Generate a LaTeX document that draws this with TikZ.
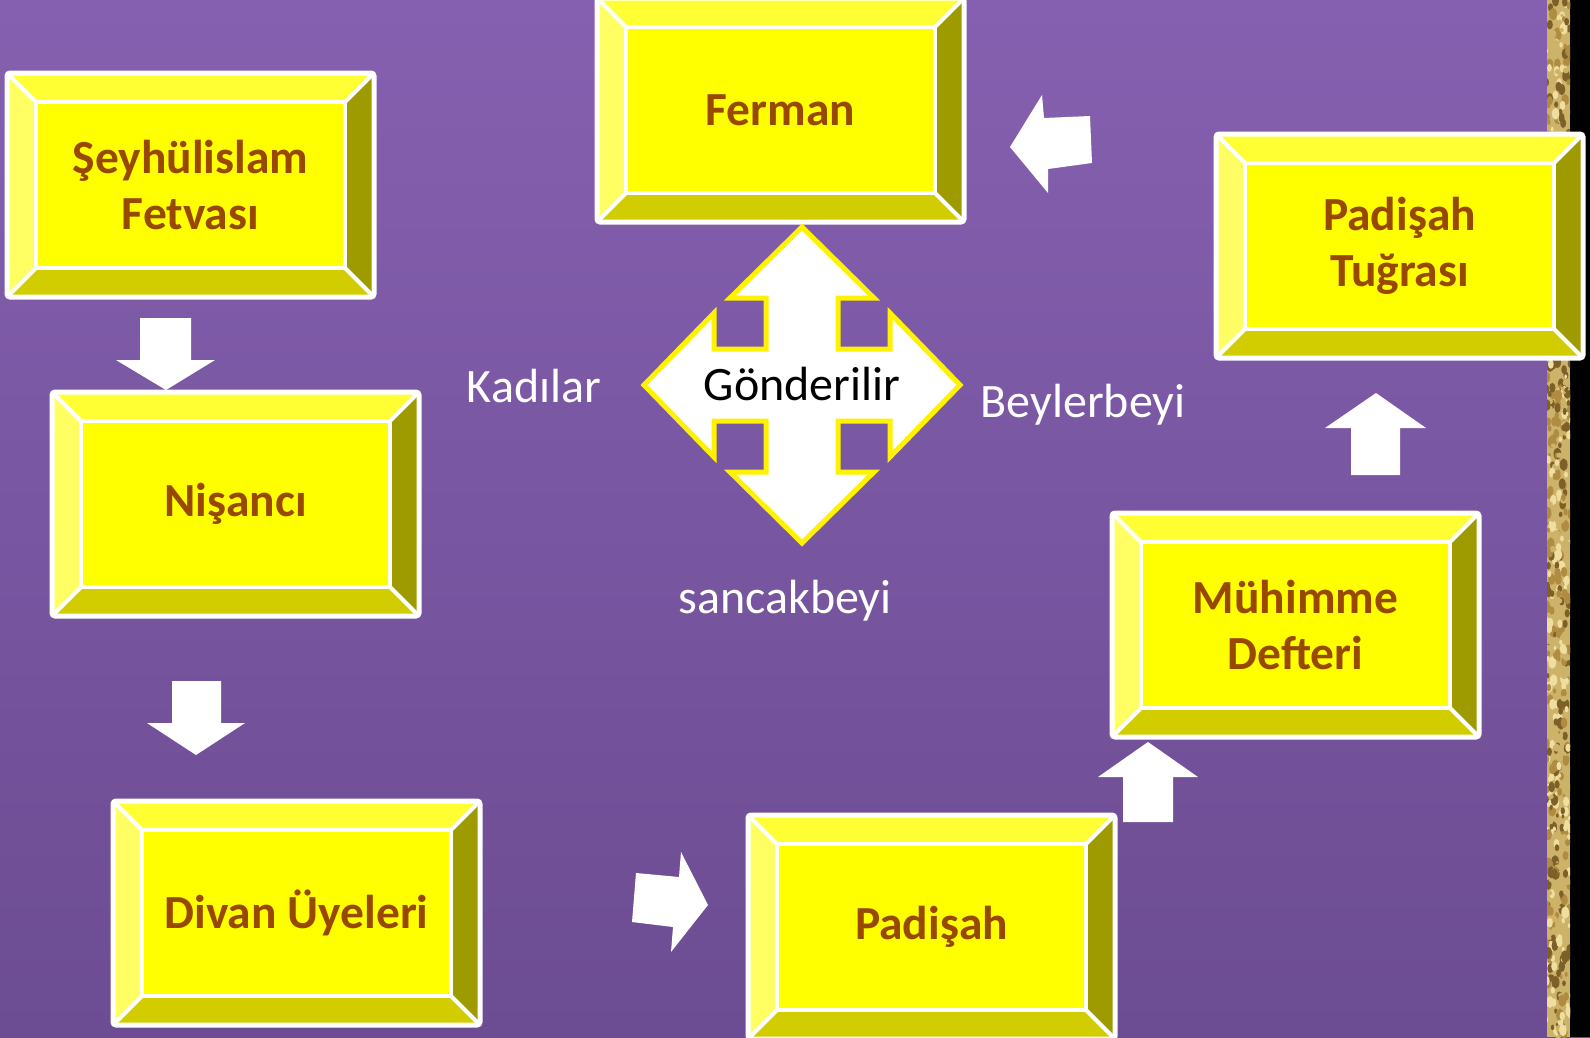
\documentclass[tikz,border=0pt]{standalone}
\usepackage{fontspec}
\setmainfont{Carlito}
\definecolor{bgtop}{RGB}{133,96,176}
\definecolor{bgbot}{RGB}{108,76,146}
\definecolor{facecol}{RGB}{255,255,0}
\definecolor{topcol}{RGB}{255,255,52}
\definecolor{leftcol}{RGB}{255,255,100}
\definecolor{rightcol}{RGB}{158,155,0}
\definecolor{botcol}{RGB}{210,205,0}
\definecolor{txtbrown}{RGB}{153,72,0}
\definecolor{gold}{RGB}{205,178,105}
\definecolor{golddark}{RGB}{125,95,40}
\definecolor{goldlight}{RGB}{240,222,160}
\definecolor{goldmid}{RGB}{175,140,65}
\newcommand\bevbox[4]{%
  \begin{scope}[shift={(#2,#3)}]
    \fill[facecol] (0,0) rectangle (367,224);
    \fill[topcol] (0,0) -- (367,0) -- (338,29) -- (29,29) -- cycle;
    \fill[leftcol] (0,0) -- (29,29) -- (29,195) -- (0,224) -- cycle;
    \fill[rightcol] (367,0) -- (367,224) -- (338,195) -- (338,29) -- cycle;
    \fill[botcol] (0,224) -- (367,224) -- (338,195) -- (29,195) -- cycle;
    \draw[bevline] (29,29) rectangle (338,195);
    \draw[bevline] (0,0)--(29,29) (367,0)--(338,29) (0,224)--(29,195) (367,224)--(338,195);
    \draw[bevline, line width=5, rounded corners=3] (0,0) rectangle (367,224);
    \node[boxtext] (#1) at (183.5,112) {#4};
  \end{scope}}
\begin{document}
\begin{tikzpicture}[x=1pt,y=-1pt,
  bevline/.style={white, line width=4},
  boxtext/.style={text=txtbrown, font=\bfseries\fontsize{47.5}{56}\selectfont, align=center, inner sep=0pt},
  lbl/.style={text=white, font=\fontsize{48}{56}\selectfont, inner sep=0pt, anchor=base},
  whitearrow/.style={fill=white}]
\useasboundingbox (0,0) rectangle (1590,1037);
% background
\shade[top color=bgtop, bottom color=bgbot] (0,0) rectangle (1590,1037);
% gold strip and black edge
\fill[black] (1570,0) rectangle (1590,1037);
\fill[gold] (1547,0) rectangle (1570,1037);
\begin{scope}
\clip (1547,0) rectangle (1570,1037);
\pgfmathsetseed{7}
\foreach \i in {1,...,700}{
  \pgfmathsetmacro\xx{1546+rnd*25}
  \pgfmathsetmacro\yy{rnd*1037}
  \pgfmathsetmacro\rr{1.2+rnd*2.8}
  \pgfmathtruncatemacro\cc{mod(\i,4)}
  \ifnum\cc=0 \fill[golddark] (\xx,\yy) ellipse[x radius=\rr, y radius=\rr*1.6];
  \else\ifnum\cc=1 \fill[goldlight] (\xx,\yy) ellipse[x radius=\rr, y radius=\rr*1.6];
  \else\ifnum\cc=2 \fill[goldmid] (\xx,\yy) ellipse[x radius=\rr, y radius=\rr*1.6];
  \else \fill[gold] (\xx,\yy) circle[radius=\rr];\fi\fi\fi
}
\end{scope}
% boxes
\bevbox{seyh}{7}{73}{Şeyhülislam\\Fetvası}
\bevbox{ferman}{597}{-2}{Ferman}
\bevbox{nisanci}{52}{392}{Nişancı}
\bevbox{divan}{113}{801}{Divan Üyeleri}
\bevbox{padisah}{748}{815}{Padişah}
\bevbox{muhimme}{1112}{513}{Mühimme\\Defteri}
\bevbox{tugra}{1216}{134}{Padişah\\Tuğrası}
% single white arrows
\fill[whitearrow] (140,318) -- (191,318) -- (191,360) -- (215,360) -- (166,390) -- (116,360) -- (140,360) -- cycle;
\fill[whitearrow] (172,681) -- (221,681) -- (221,723) -- (245,723) -- (196,755) -- (147,723) -- (172,723) -- cycle;
\fill[whitearrow] (636,873) -- (679,877) -- (681,852) -- (708,905) -- (671,952) -- (673,927) -- (632,922) -- cycle;
\fill[whitearrow] (1010,147) -- (1042,95) -- (1044,118) -- (1090,116) -- (1092,163) -- (1048,169) -- (1048,193) -- cycle;
\fill[whitearrow] (1148,742) -- (1198,777) -- (1173,777) -- (1173,822) -- (1123,822) -- (1123,777) -- (1098,777) -- cycle;
\fill[whitearrow] (1376,393) -- (1426,428) -- (1400,428) -- (1400,475) -- (1351,475) -- (1351,428) -- (1325,428) -- cycle;
% four-way arrow
\begin{scope}[shift={(802,385)}]
\filldraw[fill=white, draw=yellow, line width=5, line join=miter]
 (0,-158) -- (72,-87) -- (36,-87) -- (36,-36) -- (88,-36) -- (88,-72) -- (158,0) -- (88,72) -- (88,36) -- (36,36) -- (36,87) -- (72,87) -- (0,158) -- (-72,87) -- (-36,87) -- (-36,36) -- (-88,36) -- (-88,72) -- (-158,0) -- (-88,-72) -- (-88,-36) -- (-36,-36) -- (-36,-87) -- (-72,-87) -- cycle;
\end{scope}
% labels
\node[lbl, text=black] (gond) at (802,400) {Gönderilir};
\node[lbl] (kadilar) at (534,402) {Kadılar};
\node[lbl] (beyler) at (1083,417) {Beylerbeyi};
\node[lbl] (sancak) at (785,613) {sancakbeyi};
\end{tikzpicture}
\end{document}
